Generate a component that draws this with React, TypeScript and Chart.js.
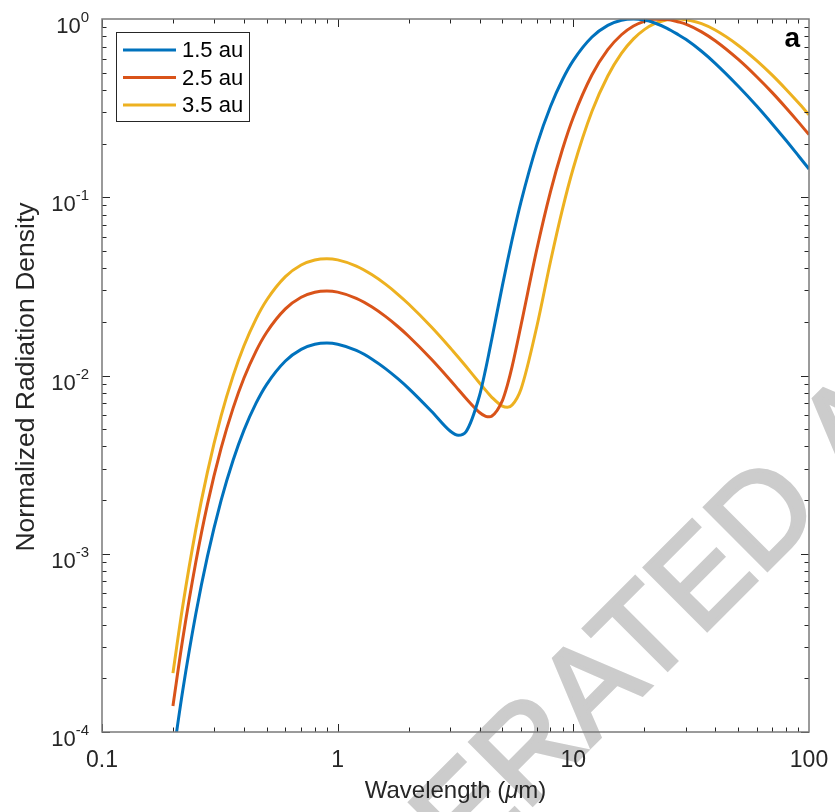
import React, { useEffect, useRef } from "react";
import { Chart, registerables } from "chart.js";

Chart.register(...registerables);

// ---- data ----
const wavelengths = [
  0.2, 0.22, 0.25, 0.28, 0.32, 0.36, 0.4, 0.45, 0.5, 0.6, 0.7, 0.8, 0.9, 1.0,
  1.2, 1.4, 1.6, 1.8, 2.0, 2.5, 3.0, 3.25, 3.5, 4.0, 4.25, 4.4, 4.5, 5.0, 5.25,
  5.5, 6, 7, 8, 9, 10, 12, 14, 16, 18, 20, 22, 25, 28, 30, 35, 40, 50, 60, 70,
  80, 90, 100,
];

const au15 = [
  7.22e-5, 1.705e-4, 4.59e-4, 9.63e-4, 1.987e-3, 3.347e-3, 4.92e-3, 6.97e-3,
  8.92e-3, 0.01206, 0.01401, 0.01496, 0.0152, 0.01497, 0.01382, 0.01235,
  0.0109, 0.0096, 0.00847, 0.0063, 0.00488, 0.00462, 0.00483, 0.00772,
  0.01093, 0.01365, 0.01583, 0.03193, 0.04362, 0.05792, 0.0945, 0.196, 0.3228,
  0.4575, 0.5856, 0.7922, 0.9213, 0.9844, 1.0, 0.9856, 0.953, 0.8868, 0.8137,
  0.769, 0.659, 0.564, 0.421, 0.325, 0.257, 0.208, 0.1716, 0.1441,
];

const au25 = [
  1.4e-4, 3.31e-4, 8.95e-4, 1.888e-3, 3.896e-3, 6.562e-3, 9.646e-3, 0.01367,
  0.01749, 0.02364, 0.02747, 0.02933, 0.02979, 0.02935, 0.02709, 0.02421,
  0.02138, 0.01883, 0.01661, 0.01234, 0.00944, 0.00835, 0.00745, 0.0062,
  0.0059, 0.00586, 0.0059, 0.00723, 0.00883, 0.01125, 0.0192, 0.05108, 0.1075,
  0.1864, 0.2813, 0.4866, 0.6728, 0.8159, 0.9132, 0.9703, 0.9961, 0.9941,
  0.962, 0.936, 0.847, 0.755, 0.595, 0.4745, 0.385, 0.3167, 0.2648, 0.2245,
];

const au35 = [
  2.14e-4, 5.07e-4, 1.366e-3, 2.863e-3, 5.909e-3, 9.953e-3, 0.01463, 0.02073,
  0.02652, 0.03586, 0.04167, 0.04449, 0.04519, 0.04452, 0.04109, 0.03672,
  0.03243, 0.02855, 0.02519, 0.01871, 0.01432, 0.01266, 0.01126, 0.00908,
  0.00825, 0.00782, 0.00757, 0.00673, 0.00663, 0.00683, 0.00841, 0.01883,
  0.04361, 0.08608, 0.146, 0.3035, 0.4789, 0.641, 0.7733, 0.8719, 0.9384,
  0.9901, 0.9995, 0.99, 0.942, 0.867, 0.713, 0.584, 0.4825, 0.4023, 0.3397,
  0.2903,
];

const seriesLabels = ["1.5 au", "2.5 au", "3.5 au"];
const seriesColors = ["#0072BD", "#D95319", "#EDB120"];

const xTickValues = [0.1, 1, 10, 100];
const xTickLabels = ["0.1", "1", "10", "100"];
const yTickExponents = [0, -1, -2, -3, -4];

const xTitleParts = ["Wavelength (", "\u03BC", "m)"];
const yTitle = "Normalized Radiation Density";
const panelLetter = "a";
const watermarkText = "ACCELERATED ARTICLE PREVIEW";
const watermarkAnchorPrefix = "ACCELERATE";

const FONT = '"Liberation Sans", Arial, Helvetica, sans-serif';
const TEXT = "#262626";

const decorPlugin = {
  id: "decor",
  beforeDraw(chart: any) {
    const ctx = chart.ctx as CanvasRenderingContext2D;
    ctx.save();
    ctx.fillStyle = "#cccccc";
    ctx.strokeStyle = "#cccccc";
    ctx.lineWidth = 4;
    ctx.lineJoin = "miter";
    ctx.font = `128px ${FONT}`;
    ctx.textBaseline = "alphabetic";
    ctx.textAlign = "left";
    ctx.translate(760, 577);
    ctx.rotate(-Math.PI / 4);
    const off = ctx.measureText(watermarkAnchorPrefix).width;
    ctx.fillText(watermarkText, -off, 0);
    ctx.strokeText(watermarkText, -off, 0);
    ctx.restore();
  },
  afterDraw(chart: any) {
    const ctx = chart.ctx as CanvasRenderingContext2D;
    const a = chart.chartArea;
    const xs = chart.scales.x;
    const ys = chart.scales.y;
    ctx.save();

    // ticks (inside, on all four sides)
    ctx.strokeStyle = TEXT;
    ctx.lineWidth = 1;
    ctx.beginPath();
    for (let d = -1; d <= 1; d++) {
      for (let k = 1; k <= 9; k++) {
        const v = k * Math.pow(10, d);
        const px = Math.round(xs.getPixelForValue(v)) + 0.5;
        const len = k === 1 ? 8 : 4.5;
        ctx.moveTo(px, a.bottom);
        ctx.lineTo(px, a.bottom - len);
        ctx.moveTo(px, a.top);
        ctx.lineTo(px, a.top + len);
      }
    }
    for (let d = -4; d <= -1; d++) {
      for (let k = 1; k <= 9; k++) {
        const v = k * Math.pow(10, d);
        const py = Math.round(ys.getPixelForValue(v)) + 0.5;
        const len = k === 1 ? 8 : 4.5;
        ctx.moveTo(a.left, py);
        ctx.lineTo(a.left + len, py);
        ctx.moveTo(a.right, py);
        ctx.lineTo(a.right - len, py);
      }
    }
    ctx.stroke();

    // box
    ctx.strokeStyle = "#7a7a7a";
    ctx.lineWidth = 1.5;
    ctx.strokeRect(a.left, a.top, a.right - a.left, a.bottom - a.top);

    // x tick labels
    ctx.fillStyle = TEXT;
    ctx.font = `23px ${FONT}`;
    ctx.textAlign = "center";
    ctx.textBaseline = "alphabetic";
    xTickValues.forEach((v, i) => {
      ctx.fillText(xTickLabels[i], xs.getPixelForValue(v), a.bottom + 35);
    });

    // y tick labels with superscript exponents
    const rightEdge = 89;
    yTickExponents.forEach((e) => {
      const py = ys.getPixelForValue(Math.pow(10, e));
      const exp = e === 0 ? "0" : "-" + String(-e);
      ctx.font = `15px ${FONT}`;
      const w2 = ctx.measureText(exp).width;
      ctx.textAlign = "left";
      ctx.fillText(exp, rightEdge - w2, py + 3);
      ctx.font = `22px ${FONT}`;
      ctx.textAlign = "right";
      ctx.fillText("10", rightEdge - w2, py + 14);
    });

    // x title with italic mu
    ctx.font = `24px ${FONT}`;
    const w0 = ctx.measureText(xTitleParts[0]).width;
    const w2t = ctx.measureText(xTitleParts[2]).width;
    ctx.font = `italic 24px ${FONT}`;
    const w1 = ctx.measureText(xTitleParts[1]).width;
    const total = w0 + w1 + w2t;
    let tx = (a.left + a.right) / 2 - total / 2;
    const ty = 798;
    ctx.textAlign = "left";
    ctx.font = `24px ${FONT}`;
    ctx.fillText(xTitleParts[0], tx, ty);
    tx += w0;
    ctx.font = `italic 24px ${FONT}`;
    ctx.fillText(xTitleParts[1], tx, ty);
    tx += w1;
    ctx.font = `24px ${FONT}`;
    ctx.fillText(xTitleParts[2], tx, ty);

    // y title
    ctx.save();
    ctx.translate(34, 377);
    ctx.rotate(-Math.PI / 2);
    ctx.textAlign = "center";
    ctx.font = `26.5px ${FONT}`;
    ctx.fillText(yTitle, 0, 0);
    ctx.restore();

    // legend
    ctx.fillStyle = "#ffffff";
    ctx.fillRect(116, 32, 134, 90);
    ctx.strokeStyle = TEXT;
    ctx.lineWidth = 1;
    ctx.strokeRect(116.5, 32.5, 133, 89);
    const rows = [50, 77.5, 105];
    ctx.font = `22px ${FONT}`;
    ctx.textAlign = "left";
    ctx.textBaseline = "middle";
    seriesLabels.forEach((lab, i) => {
      ctx.strokeStyle = seriesColors[i];
      ctx.lineWidth = 3;
      ctx.beginPath();
      ctx.moveTo(123, rows[i]);
      ctx.lineTo(176, rows[i]);
      ctx.stroke();
      ctx.fillStyle = "#000000";
      ctx.fillText(lab, 182, rows[i] + 1);
    });

    // panel letter
    ctx.fillStyle = "#000000";
    ctx.font = `bold 28px ${FONT}`;
    ctx.textAlign = "right";
    ctx.textBaseline = "alphabetic";
    ctx.fillText(panelLetter, 800, 47);

    ctx.restore();
  },
};

export default function App() {
  const ref = useRef<HTMLCanvasElement | null>(null);

  useEffect(() => {
    if (!ref.current) return;
    const seriesValues = [au15, au25, au35];
    const chart = new Chart(ref.current, {
      type: "line",
      data: {
        datasets: seriesValues.map((vals, i) => ({
          label: seriesLabels[i],
          data: wavelengths.map((w, j) => ({ x: w, y: vals[j] })),
          borderColor: seriesColors[i],
          backgroundColor: seriesColors[i],
          borderWidth: 3,
          pointRadius: 0,
          fill: false,
          cubicInterpolationMode: "monotone" as const,
        })),
      },
      options: {
        responsive: false,
        animation: false,
        events: [],
        layout: { padding: { top: 19, right: 26, left: 0, bottom: 0 } },
        plugins: {
          legend: { display: false },
          tooltip: { enabled: false },
        },
        scales: {
          x: {
            type: "logarithmic",
            min: 0.1,
            max: 100,
            ticks: { display: false },
            grid: { display: false, drawTicks: false },
            border: { display: false },
            afterFit(s: any) {
              s.height = 80;
            },
          },
          y: {
            type: "logarithmic",
            min: 1e-4,
            max: 1,
            ticks: { display: false },
            grid: { display: false, drawTicks: false },
            border: { display: false },
            afterFit(s: any) {
              s.width = 102;
            },
          },
        },
      },
      plugins: [decorPlugin],
    });
    return () => chart.destroy();
  }, []);

  return (
    <div style={{ position: "fixed", left: 0, top: 0, width: 835, height: 812, background: "#fff" }}>
      <canvas ref={ref} width={835} height={812} style={{ display: "block" }} />
    </div>
  );
}
